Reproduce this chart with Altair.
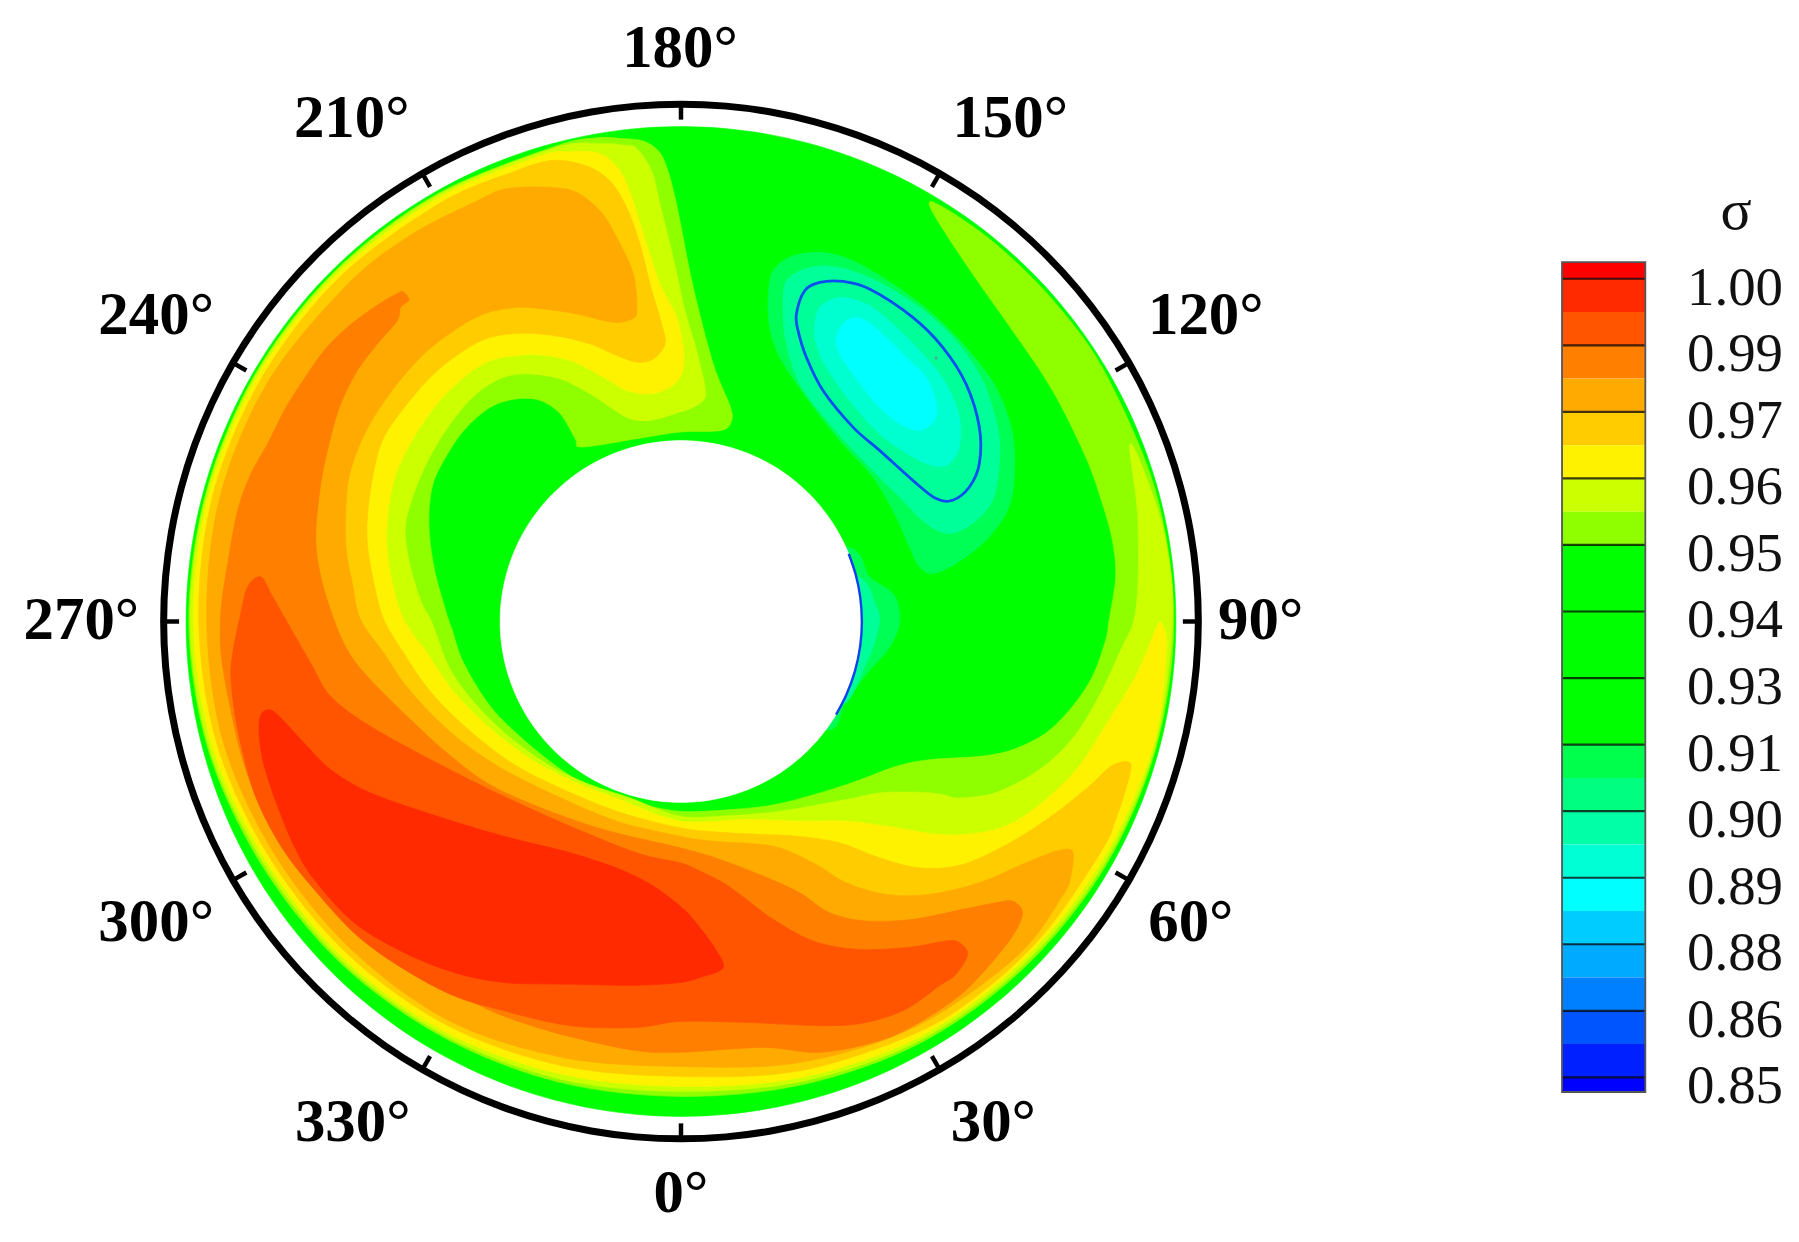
import math
import altair as alt
import pandas as pd

# ---- values -----------------------------------------------------------
angle_ticks = [0, 30, 60, 90, 120, 150, 180, 210, 240, 270, 300, 330]
angle_labels = ["0°", "30°", "60°", "90°", "120°", "150°", "180°", "210°", "240°", "270°", "300°", "330°"]
legend_labels = ["1.00", "0.99", "0.97", "0.96", "0.95", "0.94", "0.93", "0.91", "0.90", "0.89", "0.88", "0.86", "0.85"]
legend_colors = ["#ff0000", "#ff2a00", "#ff5500", "#ff7f00", "#ffaa00", "#ffcc00", "#fff200", "#ccff00", "#8fff00",
                 "#00ff00", "#00ff00", "#00ff00", "#00ff4c", "#00ff80", "#00ffa6", "#00ffd5",
                 "#00ffff", "#00ccff", "#00aaff", "#0080ff", "#0055ff", "#0020ff", "#0000ff"]
legend_edges = [-0.25, 0, 0.5, 1, 1.5, 2, 2.5, 3, 3.5, 4, 5, 6, 7, 7.5, 8, 8.5, 9, 9.5, 10, 10.5, 11, 11.5, 12, 12.22]

# Digitised contour boundaries. Sections A-D are the four quadrants of the disc,
# R sections are (angle in degrees, depth inside the outer edge).
band_095 = [("A", [(1280, 80), (1350, 82), (1420, 90), (1470, 125), (1497, 190), (1515, 260)]),
            ("B", [(0, 330), (40, 530), (100, 760), (150, 885), (155, 930), (125, 960), (0, 965)]),
            ("A", [(1400, 985), (1235, 1010), (1215, 985), (1170, 910), (1110, 870), (1040, 865), (960, 890), (880, 960),
                   (820, 1050), (785, 1130), (775, 1240), (790, 1370), (825, 1500)]),
            ("C", [(845, 30), (880, 130), (960, 260), (1060, 360), (1180, 455), (1280, 510), (1390, 548), (1530, 575)]),
            ("D", [(150, 570), (300, 552), (500, 495), (650, 440), (750, 420), (900, 410), (1000, 390), (1100, 340),
                   (1180, 260), (1240, 170), (1280, 60)]),
            ("B", [(1290, 1530), (1310, 1400), (1300, 1290), (1270, 1180), (1220, 1040), (1120, 840), (1000, 660),
                   (880, 490), (755, 295), (785, 285)]),
            ("R", [(140, 10), (130, 10), (120, 10), (105, 8), (90, 6), (75, 10), (60, 15), (45, 22), (30, 30), (15, 48),
                   (0, 60), (345, 55), (330, 48), (315, 38), (300, 30), (285, 15), (270, 8), (255, 8), (240, 7), (225, 7),
                   (210, 8), (195, 10)])]
band_096 = [("A", [(1300, 98), (1360, 102), (1400, 112), (1445, 180), (1470, 280), (1500, 400), (1525, 510)]),
            ("B", [(15, 600), (50, 720), (75, 830), (70, 870), (30, 895), (0, 905)]),
            ("A", [(1440, 930), (1380, 925), (1320, 890), (1260, 850), (1170, 805), (1075, 790), (1000, 800), (930, 840),
                   (870, 900), (800, 1000), (745, 1110), (705, 1240), (715, 1350), (750, 1470)]),
            ("C", [(785, 10), (830, 130), (880, 210), (950, 290), (1040, 370), (1150, 445), (1260, 495), (1380, 535), (1530, 590)]),
            ("D", [(150, 588), (300, 575), (500, 540), (600, 520), (720, 518), (790, 525), (830, 535), (900, 530), (960, 515),
                   (1050, 470), (1130, 410), (1200, 330), (1270, 210), (1330, 80), (1365, 0)]),
            ("B", [(1378, 1400), (1375, 1200), (1352, 1005), (1390, 1070)]),
            ("R", [(100, 11), (90, 10), (75, 14), (60, 22), (45, 30), (30, 38), (15, 58), (0, 75), (345, 65), (330, 55), (315, 45),
                   (300, 38), (285, 20), (270, 12), (255, 11), (240, 10), (225, 10), (210, 12), (195, 14)])]
band_yellow = [("A", [(1200, 122), (1290, 128), (1350, 180), (1385, 260), (1420, 370), (1470, 520), (1520, 620), (1540, 720),
                      (1535, 790), (1500, 830), (1440, 850), (1370, 840), (1300, 800), (1200, 750), (1100, 732), (1040, 735),
                      (960, 750), (880, 800), (800, 880), (730, 980), (680, 1080), (655, 1180), (648, 1300), (665, 1420), (700, 1530)]),
               ("C", [(770, 100), (830, 190), (900, 270), (1000, 360), (1100, 430), (1220, 490), (1350, 540), (1530, 605)]),
               ("D", [(200, 600), (350, 605), (500, 605), (620, 620), (780, 645), (900, 640), (1000, 610), (1100, 540),
                      (1200, 440), (1290, 300), (1370, 170), (1430, 30), (1447, 8), (1462, 90)]),
               ("R", [(75, 20), (60, 32), (45, 40), (30, 48), (15, 70), (0, 90), (345, 80), (330, 65), (315, 55), (300, 48), (285, 30),
                      (270, 22), (255, 18), (240, 17), (225, 18), (210, 20), (197, 26)])]
band_097 = [("A", [(1150, 148), (1250, 165), (1320, 210), (1370, 290), (1410, 400), (1440, 520), (1475, 640), (1485, 700), (1450, 745),
                   (1400, 755), (1340, 735), (1260, 700), (1170, 678), (1060, 668), (960, 680), (880, 720), (790, 790), (710, 880),
                   (640, 980), (610, 1080), (592, 1200), (590, 1300), (610, 1420), (640, 1530)]),
            ("C", [(700, 100), (760, 190), (830, 270), (930, 360), (1040, 440), (1180, 510), (1340, 575), (1530, 625)]),
            ("D", [(150, 640), (350, 650), (480, 670), (600, 715), (720, 745), (850, 735), (1000, 665), (1130, 580), (1230, 500),
                   (1300, 437), (1355, 432), (1340, 510), (1310, 600), (1270, 690)]),
            ("R", [(50, 48), (40, 52), (30, 62), (15, 90), (0, 120), (345, 105), (330, 85), (315, 72), (300, 62), (285, 45), (270, 38),
                   (255, 30), (240, 30), (225, 30), (210, 36), (200, 45)])]
band_098 = [("A", [(930, 265), (1000, 235), (1100, 228), (1210, 240), (1290, 300), (1340, 380), (1390, 490), (1400, 600), (1385, 625),
                   (1330, 635), (1220, 610), (1120, 595), (1040, 590), (940, 610), (850, 660), (760, 730), (680, 820), (610, 920),
                   (560, 1020), (530, 1130), (525, 1300), (545, 1420), (570, 1530)]),
            ("C", [(640, 100), (700, 190), (780, 280), (880, 370), (1000, 450), (1150, 525), (1340, 605), (1530, 650)]),
            ("D", [(100, 665), (280, 680), (400, 730), (500, 790), (620, 825), (750, 825), (900, 790), (1040, 730), (1130, 695),
                   (1180, 695), (1175, 770), (1150, 830)]),
            ("R", [(45, 62), (30, 80), (15, 115), (0, 150), (345, 130), (330, 100), (315, 90), (300, 80), (285, 65), (270, 62),
                   (255, 52), (240, 52), (225, 62), (215, 70)])]
band_099 = [("A", [(700, 545), (715, 568), (690, 590), (680, 630), (620, 700), (560, 780), (510, 880), (480, 980), (450, 1120),
                   (435, 1280), (450, 1400), (490, 1530)]),
            ("C", [(530, 90), (590, 170), (710, 290), (830, 400), (950, 490), (1100, 560), (1300, 630), (1530, 685)]),
            ("D", [(120, 720), (250, 770), (360, 820), (450, 880), (560, 905), (700, 900), (850, 870), (950, 850), (1000, 845),
                   (1030, 880), (1000, 950), (920, 1050), (840, 1130), (720, 1210), (600, 1265), (420, 1300), (250, 1285), (0, 1300)]),
            ("C", [(1400, 1295), (1250, 1265), (1100, 1225), (950, 1170), (780, 1075), (620, 960), (480, 840), (360, 710),
                   (280, 590), (215, 420), (175, 250), (150, 100)]),
            ("A", [(150, 1500), (170, 1360), (200, 1200), (240, 1090), (290, 1000), (340, 900), (390, 820), (460, 720),
                   (530, 650), (610, 590), (680, 548)])]
band_0995 = [("A", [(270, 1400), (230, 1430), (205, 1530)]),
             ("C", [(185, 100), (180, 180), (200, 330), (250, 520), (330, 680), (430, 810), (560, 950), (700, 1050), (850, 1130),
                    (1000, 1175), (1200, 1220), (1400, 1225), (1530, 1207)]),
             ("D", [(200, 1210), (430, 1220), (560, 1210), (680, 1170), (780, 1100), (830, 1065), (865, 1005), (840, 970), (800, 965),
                    (680, 985), (530, 990), (400, 965), (280, 900), (200, 840), (130, 790), (50, 750), (0, 730)]),
             ("C", [(1400, 700), (1200, 620), (1000, 530), (800, 430), (600, 320), (480, 230), (420, 130), (345, 0)]),
             ("A", [(345, 1530), (300, 1450)])]
band_100 = [("C", [(290, 270), (320, 285), (400, 370), (480, 450), (600, 520), (800, 590), (1000, 650), (1200, 700), (1350, 750),
                   (1450, 800), (1530, 860)]),
            ("D", [(40, 900), (100, 980), (130, 1045), (60, 1075), (0, 1090)]),
            ("C", [(1400, 1098), (1200, 1095), (1000, 1090), (850, 1060), (700, 1000), (550, 910), (430, 780), (370, 680),
                   (320, 560), (280, 440), (265, 350), (268, 290)])]
valley_091 = [("B", [(265, 560), (280, 480), (340, 435), (430, 425), (520, 450), (640, 520), (760, 610), (860, 710), (950, 830), (1000, 970),
                     (1005, 1100), (985, 1200), (920, 1290), (830, 1360), (760, 1390), (720, 1370), (690, 1310), (650, 1220), (580, 1100),
                     (480, 990), (380, 860), (300, 740), (270, 650)])]
valley_090 = [("B", [(310, 600), (320, 510), (390, 470), (480, 470), (590, 510), (720, 590), (830, 690), (910, 810), (955, 950), (960, 1060),
                     (940, 1170), (880, 1240), (810, 1270), (740, 1240), (660, 1160), (560, 1060), (450, 940), (360, 820), (320, 700)])]
valley_line = [("B", [(350, 610), (375, 540), (420, 515), (490, 512), (570, 535), (700, 620), (790, 710), (860, 820), (900, 950), (900, 1060),
                      (870, 1130), (820, 1170), (770, 1165), (700, 1110), (600, 1020), (520, 950), (430, 840), (380, 740), (355, 660)])]
valley_089 = [("B", [(405, 650), (420, 590), (480, 560), (560, 580), (640, 640), (730, 730), (800, 820), (840, 920), (840, 1010), (810, 1060),
                     (770, 1068), (700, 1040), (600, 970), (510, 870), (440, 770), (410, 700)])]
valley_088 = [("B", [(470, 680), (500, 630), (550, 625), (620, 680), (680, 740), (740, 800), (770, 880), (765, 930), (720, 960), (660, 940),
                     (590, 880), (520, 790), (480, 730)])]
wall_091 = [("B", [(500, 1310), (570, 1400), (640, 1450), (660, 1510)]),
            ("D", [(655, 30), (625, 90), (580, 140), (500, 240), (440, 330), (200, 200), (200, -200)])]
wall_090 = [("B", [(530, 1400), (590, 1490), (600, 1530)]),
            ("D", [(590, 50), (560, 130), (480, 260), (300, 200), (300, -100)])]
hole_edge_angles = [112, 105, 98, 90, 82, 74, 66, 59]
speck = [("B", [(770, 742)])]

# ---- layout -----------------------------------------------------------
CX, CY, R_PX = 681.0, 621.5, 496.0
SHIFT = 1.5
LEFT_W, RIGHT_W, PANEL_H = 1312, 295, 1226
Q = {"A": (0, 0), "B": (1530, 0), "C": (0, 1530), "D": (1530, 1530)}
GC = ((CX - 170) * 3, (CY - 110) * 3)


def nx(px):
    return (px - CX) / R_PX


def ny(py):
    return (CY - py) / R_PX


def polar(deg, radius):
    t = math.radians(deg)
    return math.sin(t) * radius, -math.cos(t) * radius


def expand(sections):
    pts = []
    for key, items in sections:
        for a, b in items:
            if key == "R":
                dx, dy = polar(a, R_PX * 3 - b)
                gx, gy = GC[0] + dx, GC[1] - dy
            else:
                gx, gy = a + Q[key][0], b + Q[key][1]
            pts.append((nx(gx / 3 + 170), ny(gy / 3 + 110)))
    return pts


xs = alt.Scale(domain=[nx(8 - SHIFT), nx(8 - SHIFT + LEFT_W)], nice=False, zero=False)
ys = alt.Scale(domain=[ny(8 + PANEL_H), ny(8)], nice=False, zero=False)
X = alt.X("x:Q", scale=xs, axis=None)
Y = alt.Y("y:Q", scale=ys, axis=None)


def frame_of(pts):
    return pd.DataFrame({"x": [p[0] for p in pts], "y": [p[1] for p in pts], "i": list(range(len(pts)))})


def shape(pts, fill):
    return alt.Chart(frame_of(pts)).mark_line(interpolate="cardinal-closed", tension=0.05, fill=fill, stroke=fill,
                                              strokeWidth=0.6).encode(x=X, y=Y, order="i:Q")


def circle(radius):
    return [polar(a, radius) for a in range(0, 360, 5)]


def outline(pts, color, width, interpolate="cardinal-closed"):
    return alt.Chart(frame_of(pts)).mark_line(interpolate=interpolate, tension=0.0, stroke=color,
                                              strokeWidth=width).encode(x=X, y=Y, order="i:Q")


layers = [shape(circle(1.0), "#00ff00")]
for sec, col in [(band_095, "#8fff00"), (band_096, "#ccff00"), (band_yellow, "#fff200"), (band_097, "#ffcc00"),
                 (band_098, "#ffaa00"), (band_099, "#ff7f00"), (band_0995, "#ff5500"), (band_100, "#ff2a00"),
                 (valley_091, "#00ff55"), (valley_090, "#00ff99"), (valley_089, "#00ffd0"), (valley_088, "#00ffff"),
                 (wall_091, "#00ff55"), (wall_090, "#00ff99")]:
    layers.append(shape(expand(sec), col))
hole_r = 181.3 / R_PX
layers.append(shape(circle(hole_r), "#ffffff"))
layers.append(outline(expand(valley_line), "#0a50f0", 2.8))
layers.append(outline([polar(a, hole_r) for a in hole_edge_angles], "#1040f0", 2.4, "cardinal"))
layers.append(alt.Chart(frame_of(expand(speck))).mark_point(filled=True, size=10, color="#40b0a0", opacity=1).encode(x=X, y=Y))

ring_r = 518.5 / R_PX
layers.append(outline(circle(ring_r), "#000000", 7))
tick_df = pd.DataFrame({"x": [polar(a, ring_r)[0] for a in angle_ticks],
                        "y": [polar(a, ring_r)[1] for a in angle_ticks],
                        "x2": [polar(a, 503 / R_PX)[0] for a in angle_ticks],
                        "y2": [polar(a, 503 / R_PX)[1] for a in angle_ticks]})
layers.append(alt.Chart(tick_df).mark_rule(color="#000000", strokeWidth=4.5).encode(x=X, y=Y, x2="x2:Q", y2="y2:Q"))

label_px = {0: (681, 1195), 30: (994, 1124), 60: (1192, 924), 90: (1262, 621), 120: (1207, 315), 150: (1011, 118),
            180: (680, 48), 210: (351, 118), 240: (155, 315), 270: (80, 621), 300: (155, 924), 330: (352, 1124)}
label_df = pd.DataFrame({"x": [nx(label_px[a][0]) for a in angle_ticks],
                         "y": [ny(label_px[a][1]) for a in angle_ticks],
                         "t": angle_labels})
layers.append(alt.Chart(label_df).mark_text(font="Liberation Serif", fontWeight="bold", fontSize=61, color="#000000",
                                            align="center", baseline="middle").encode(x=X, y=Y, text="t:N"))

disc = alt.layer(*layers).properties(width=LEFT_W, height=PANEL_H)

# ---- colour bar -------------------------------------------------------
STEP = 66.7
LINE0 = 278.0
ly = alt.Scale(domain=[(8 + PANEL_H - LINE0) / STEP, (8 - LINE0) / STEP], nice=False, zero=False)
LEG_X0, LEG_X1 = 1565.5 - 1500, 1649 - 1500
band_df = pd.DataFrame({"a": legend_edges[:-1], "b": legend_edges[1:], "c": legend_colors})
bars = alt.Chart(band_df).mark_rect().encode(
    y=alt.Y("a:Q", scale=ly, axis=None), y2="b:Q",
    x=alt.value(LEG_X0), x2=alt.value(LEG_X1),
    color=alt.Color("c:N", scale=None))
line_df = pd.DataFrame({"a": list(range(len(legend_labels)))})
rules = alt.Chart(line_df).mark_rule(color="#000000", strokeWidth=2.2, opacity=0.75).encode(
    y=alt.Y("a:Q", scale=ly, axis=None), x=alt.value(LEG_X0), x2=alt.value(LEG_X1))
frame_df = pd.DataFrame({"a": [legend_edges[0]], "b": [legend_edges[-1]]})
frame = alt.Chart(frame_df).mark_rect(fillOpacity=0, stroke="#555555", strokeWidth=1.8).encode(
    y=alt.Y("a:Q", scale=ly, axis=None), y2="b:Q", x=alt.value(LEG_X0), x2=alt.value(LEG_X1))
text_df = pd.DataFrame({"a": [i + 0.135 for i in range(len(legend_labels))], "t": legend_labels})
texts = alt.Chart(text_df).mark_text(font="Liberation Serif", fontSize=55, color="#111111", align="right", baseline="middle").encode(
    y=alt.Y("a:Q", scale=ly, axis=None), x=alt.value(1787 - 1500), text="t:N")
title_df = pd.DataFrame({"a": [(211 - LINE0) / STEP], "t": ["σ"]})
title = alt.Chart(title_df).mark_text(font="Liberation Serif", fontSize=58, color="#111111", align="center", baseline="middle").encode(
    y=alt.Y("a:Q", scale=ly, axis=None), x=alt.value(1740 - 1500), text="t:N")
legend = alt.layer(bars, rules, frame, texts, title).properties(width=RIGHT_W, height=PANEL_H)

chart = alt.hconcat(disc, legend, spacing=180).properties(padding=0).configure_view(stroke=None)
chart.save("out.html", embed_options={"renderer": "svg", "actions": False})
